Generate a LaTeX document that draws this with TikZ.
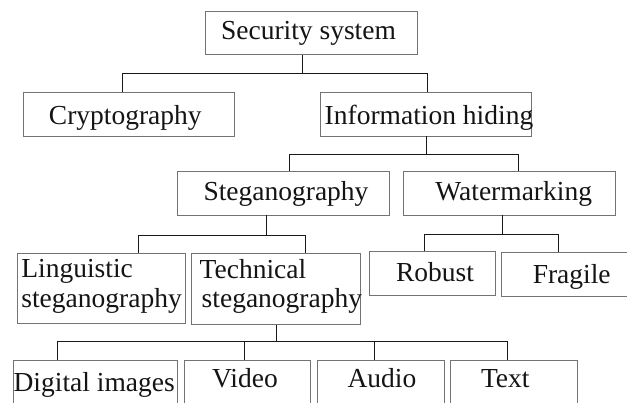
\documentclass[tikz,border=0pt]{standalone}
\usepackage{fontspec}
\setmainfont{Liberation Serif}
\begin{document}
\begin{tikzpicture}[x=1pt,y=-1pt,
  box/.style={draw=black!55, line width=0.8pt, inner sep=0pt, anchor=north west},
  lbl/.style={text=black!92, font=\fontsize{27.5}{30}\selectfont, inner sep=0pt},
  wire/.style={draw=black!90, line width=0.8pt}]
\useasboundingbox (0,0) rectangle (627,403);
\clip (0,0) rectangle (627,403);
% boxes
\node[box, minimum width=212.3pt, minimum height=43.6pt] (sec) at (205,10.7) {};
\node[box, minimum width=211pt, minimum height=44pt] (cry) at (23.3,91.7) {};
\node[box, minimum width=211.6pt, minimum height=44pt] (inf) at (319.7,91.7) {};
\node[box, minimum width=212pt, minimum height=43.4pt] (ste) at (176.7,171.3) {};
\node[box, minimum width=211.4pt, minimum height=43.4pt] (wat) at (403.3,171.3) {};
\node[box, minimum width=168.6pt, minimum height=70.6pt] (lin) at (16.7,252.7) {};
\node[box, minimum width=169pt, minimum height=71.3pt] (tec) at (191.3,252.7) {};
\node[box, minimum width=126.6pt, minimum height=44pt] (rob) at (368.7,251.3) {};
\node[box, minimum width=140pt, minimum height=44pt] (fra) at (501.3,252) {};
\node[box, minimum width=164pt, minimum height=70pt] (dig) at (12.7,359.7) {};
\node[box, minimum width=126.3pt, minimum height=70pt] (vid) at (183.7,359.7) {};
\node[box, minimum width=127pt, minimum height=70pt] (aud) at (317.3,359.7) {};
\node[box, minimum width=127pt, minimum height=70pt] (tex) at (450.3,359.7) {};
% labels
\node[lbl, anchor=base] (secT) at (308.5,39.3) {Security system};
\node[lbl, anchor=base] (cryT) at (125.3,125) {Cryptography};
\node[lbl, anchor=base] (infT) at (429,124.5) {Information hiding};
\node[lbl, anchor=base] (steT) at (286,200.7) {Steganography};
\node[lbl, anchor=base] (watT) at (513.7,200.7) {Watermarking};
\node[lbl, anchor=base west] (linT1) at (21.2,278) {Linguistic};
\node[lbl, anchor=base west] (linT2) at (21.2,308) {steganography};
\node[lbl, anchor=base west] (tecT1) at (199.5,279) {Technical};
\node[lbl, anchor=base west] (tecT2) at (201.5,308) {steganography};
\node[lbl, anchor=base] (robT) at (435,281.3) {Robust};
\node[lbl, anchor=base] (fraT) at (571.7,284) {Fragile};
\node[lbl, anchor=base] (digT) at (94.2,391.3) {Digital images};
\node[lbl, anchor=base] (vidT) at (245,387.3) {Video};
\node[lbl, anchor=base] (audT) at (382,387.3) {Audio};
\node[lbl, anchor=base] (texT) at (505.3,387.3) {Text};
% connectors
\draw[wire] ([xshift=97pt]sec.south west) -- ++(0,18.4) coordinate (b1);
\draw[wire] ([xshift=99.4pt]cry.north west) |- (b1) -| ([xshift=107.6pt]inf.north west);
\draw[wire] ([xshift=106.6pt]inf.south west) -- ++(0,17.6) coordinate (b2);
\draw[wire] ([xshift=112.6pt]ste.north west) |- (b2) -| ([xshift=115pt]wat.north west);
\draw[wire] ([xshift=90pt]ste.south west) -- ++(0,19.6) coordinate (b3);
\draw[wire] ([xshift=122pt]lin.north west) |- (b3) -| ([xshift=114pt]tec.north west);
\draw[wire] ([xshift=99pt]wat.south west) -- ++(0,18.6) coordinate (b4);
\draw[wire] ([xshift=55.6pt]rob.north west) |- (b4) -| ([xshift=57pt]fra.north west);
\draw[wire] ([xshift=85pt]tec.south west) -- ++(0,17) coordinate (b5);
\draw[wire] ([xshift=45pt]dig.north west) |- (b5) -| ([xshift=57.4pt]tex.north west);
\draw[wire] ([xshift=60.6pt]vid.north west) -- ([xshift=60.6pt]vid.north west |- b5);
\draw[wire] ([xshift=57.4pt]aud.north west) -- ([xshift=57.4pt]aud.north west |- b5);
\end{tikzpicture}
\end{document}
